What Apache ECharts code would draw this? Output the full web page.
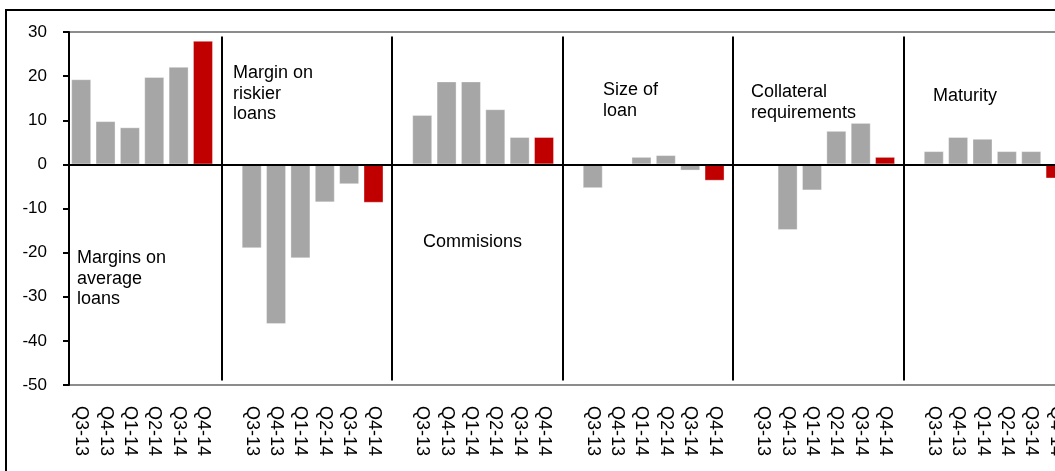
<!DOCTYPE html>
<html>
<head>
<meta charset="utf-8">
<title>Lending conditions</title>
<script src="https://cdn.jsdelivr.net/npm/echarts@6/dist/echarts.min.js"></script>
<style>
  html, body { margin: 0; padding: 0; background: #ffffff; overflow: hidden; }
  #chart { width: 1100px; height: 471px; }
</style>
</head>
<body>
<div id="chart"></div>
<script>
// Quarters shown in every panel
const quarters = ['Q3-13', 'Q4-13', 'Q1-14', 'Q2-14', 'Q3-14', 'Q4-14'];

// Panel headings
const panelTitles = [
  'Margins on\naverage\nloans',
  'Margin on\nriskier\nloans',
  'Commisions',
  'Size of\nloan',
  'Collateral\nrequirements',
  'Maturity'
];

// Net percentage per panel, one value per quarter
const marginsAverage = [19.3, 9.8, 8.4, 19.8, 22.1, 28.0];
const marginsRiskier = [-19.0, -36.2, -21.3, -8.6, -4.5, -8.7];
const commissions    = [11.2, 18.8, 18.8, 12.5, 6.2, 6.2];
const sizeOfLoan     = [-5.4, 0, 1.7, 2.1, -1.4, -3.7];
const collateral     = [0, -14.9, -5.9, 7.6, 9.4, 1.7];
const maturity       = [3.0, 6.2, 5.8, 3.0, 3.0, -3.2];

// Value axis ticks
const yTicks = [-50, -40, -30, -20, -10, 0, 10, 20, 30];

const panels = [marginsAverage, marginsRiskier, commissions, sizeOfLoan, collateral, maturity];

// Flatten panels into one category axis with an empty slot between panels
const categories = [];
const values = [];
panels.forEach((vals, p) => {
  if (p > 0) { categories.push(''); values.push(null); }
  vals.forEach((v, i) => {
    categories.push(quarters[i]);
    values.push({ value: v, latest: i === quarters.length - 1 });
  });
});
const slotCount = categories.length;

// Separator positions (between the last bar of a panel and the empty slot)
const separators = [];
for (let p = 1; p < panels.length; p++) {
  separators.push(p * (quarters.length + 1) - 1.25);
}

const FONT = '"Liberation Sans", Arial, sans-serif';
const GRID_LEFT = 69, GRID_TOP = 32, SLOT = 24.36;

const chart = echarts.init(document.getElementById('chart'), null, { renderer: 'canvas' });

// Panel heading placement, in pixels
const titlePos = [
  [77, 248], [233, 63], [423, 232], [603, 80], [751, 82], [933, 86]
];

chart.setOption({
  animation: false,
  backgroundColor: '#ffffff',
  grid: {
    left: GRID_LEFT,
    top: GRID_TOP,
    width: SLOT * slotCount,
    height: 353,
    show: true,
    borderColor: '#8c8c8c',
    borderWidth: 2,
    backgroundColor: 'transparent'
  },
  xAxis: [
    {
      type: 'category',
      data: categories,
      position: 'bottom',
      axisLine: { show: false },
      axisTick: { show: false },
      axisLabel: {
        interval: 0,
        rotate: -90,
        margin: 21,
        color: '#000',
        fontSize: 18,
        fontFamily: FONT
      }
    },
    {
      type: 'value',
      min: -0.5,
      max: slotCount - 0.5,
      show: false
    }
  ],
  yAxis: {
    type: 'value',
    min: yTicks[0],
    max: yTicks[yTicks.length - 1],
    interval: 10,
    axisLine: { show: true, onZero: false, lineStyle: { color: '#000', width: 2 } },
    axisTick: { show: true, inside: false, length: 6, lineStyle: { color: '#000', width: 2 } },
    axisLabel: { margin: 22, color: '#000', fontSize: 17, fontFamily: FONT },
    splitLine: { show: false }
  },
  series: [
    {
      type: 'bar',
      xAxisIndex: 0,
      data: values.map(d => d === null ? null : {
        value: d.value,
        itemStyle: { color: d.latest ? '#c00000' : '#a6a6a6' }
      }),
      barWidth: 20,
      itemStyle: { borderColor: 'rgba(255,255,255,0.35)', borderWidth: 1 },
      silent: true,
      markLine: {
        silent: true,
        symbol: 'none',
        label: { show: false },
        lineStyle: { color: '#000', width: 2, type: 'solid' },
        data: [{ yAxis: 0 }]
      },
      z: 2
    },
    {
      type: 'lines',
      coordinateSystem: 'cartesian2d',
      xAxisIndex: 1,
      yAxisIndex: 0,
      silent: true,
      lineStyle: { color: '#000', width: 2, opacity: 1 },
      data: separators.map(x => ({ coords: [[x, 29], [x, -49]] })),
      z: 3
    }
  ],
  graphic: [
    {
      type: 'rect',
      silent: true,
      shape: { x: 6, y: 10, width: 1200, height: 600 },
      style: { fill: 'none', stroke: '#000', lineWidth: 2 },
      z: 0
    }
  ].concat(panelTitles.map((t, i) => ({
    type: 'text',
    silent: true,
    x: titlePos[i][0],
    y: titlePos[i][1],
    style: {
      text: t,
      fill: '#000',
      font: '18px ' + FONT,
      lineHeight: 20.5,
      verticalAlign: 'top'
    },
    z: 10
  })))
});
</script>
</body>
</html>
